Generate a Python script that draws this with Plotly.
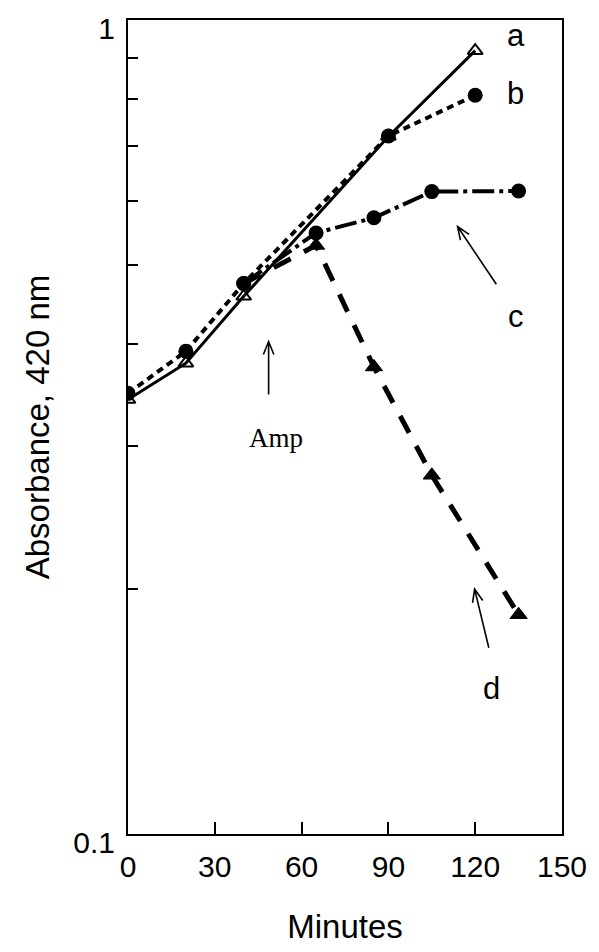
import math
import plotly.graph_objects as go

# Growth curves: absorbance at 420 nm versus time (minutes)
minutes_a = [0, 20, 40, 90, 120]
absorb_a = [0.342, 0.379, 0.458, 0.72, 0.918]

minutes_b = [0, 20, 40, 90, 120]
absorb_b = [0.348, 0.392, 0.475, 0.721, 0.809]

minutes_c = [40, 65, 85, 105, 135]
absorb_c = [0.475, 0.548, 0.572, 0.616, 0.617]

minutes_d = [40, 65, 85, 105, 135]
absorb_d = [0.475, 0.529, 0.375, 0.276, 0.186]

x_tick_vals = [0, 30, 60, 90, 120, 150]
x_tick_text = ["0", "30", "60", "90", "120", "150"]
y_tick_vals = [0.1, 1]
y_tick_text = ["0.1", "1"]
y_minor_vals = [0.2, 0.3, 0.4, 0.5, 0.6, 0.7, 0.8, 0.9]

# Figure geometry
W, H = 599, 952
MARGIN = dict(l=128, r=35, t=16, b=118)
PW = W - MARGIN["l"] - MARGIN["r"]
PH = H - MARGIN["t"] - MARGIN["b"]
X_RANGE = [0, 150]
Y_RANGE = [-1, 0.0005]  # log10 of absorbance

SANS = "Liberation Sans, Arial, sans-serif"
SERIF = "Liberation Serif, Times New Roman, serif"


def to_px(t, v):
    fx = (t - X_RANGE[0]) / (X_RANGE[1] - X_RANGE[0])
    fy = (math.log10(v) - Y_RANGE[0]) / (Y_RANGE[1] - Y_RANGE[0])
    return MARGIN["l"] + fx * PW, MARGIN["t"] + (1 - fy) * PH


def px_to_paper(px, py):
    return (px - MARGIN["l"]) / PW, 1 - (py - MARGIN["t"]) / PH


def open_arrow(t_tail, v_tail, t_head, v_head, head_len=14, half_angle=22):
    """Thin arrow with an open V head, returned as a paper-space path shape."""
    x0, y0 = to_px(t_tail, v_tail)
    x1, y1 = to_px(t_head, v_head)
    ang = math.atan2(y1 - y0, x1 - x0)
    pts = []
    for s in (1, -1):
        a = ang + math.pi + s * math.radians(half_angle)
        pts.append((x1 + head_len * math.cos(a), y1 + head_len * math.sin(a)))
    p = [px_to_paper(*q) for q in [(x0, y0), (x1, y1), pts[0], (x1, y1), pts[1]]]
    path = "M{:.5f},{:.5f} L{:.5f},{:.5f} M{:.5f},{:.5f} L{:.5f},{:.5f} L{:.5f},{:.5f}".format(
        *[c for q in p for c in q]
    )
    return dict(type="path", xref="paper", yref="paper", path=path,
                line=dict(color="black", width=1.6))


fig = go.Figure()

# a: control, open triangles, solid line
fig.add_trace(go.Scatter(
    x=minutes_a, y=absorb_a, mode="lines+markers",
    line=dict(color="black", width=3),
    marker=dict(symbol="triangle-up-open", size=13, color="black",
                line=dict(color="black", width=2)),
    showlegend=False,
))

# d: long dashes from the branch point, filled triangles after it
fig.add_trace(go.Scatter(
    x=minutes_d, y=absorb_d, mode="lines",
    line=dict(color="black", width=5, dash="19px,15px"),
    showlegend=False,
))
fig.add_trace(go.Scatter(
    x=minutes_d[1:], y=absorb_d[1:], mode="markers",
    marker=dict(symbol="triangle-up", size=15, color="black",
                line=dict(color="black", width=1)),
    showlegend=False,
))

# b: short dashes, filled circles
fig.add_trace(go.Scatter(
    x=minutes_b, y=absorb_b, mode="lines+markers",
    line=dict(color="black", width=4, dash="7px,5px"),
    marker=dict(symbol="circle", size=15, color="black"),
    showlegend=False,
))

# c: dash-dot, filled circles
fig.add_trace(go.Scatter(
    x=minutes_c, y=absorb_c, mode="lines+markers",
    line=dict(color="black", width=4, dash="22px,5px,4px,5px"),
    marker=dict(symbol="circle", size=15, color="black"),
    showlegend=False,
))

# Curve labels
labels = [("a", 134, 0.957), ("b", 134, 0.813), ("c", 134, 0.432), ("d", 125.5, 0.151)]
annotations = [
    dict(x=t, y=math.log10(v), xref="x", yref="y", text=s, showarrow=False,
         font=dict(family=SANS, size=31, color="black"))
    for s, t, v in labels
]
annotations.append(dict(x=51, y=math.log10(0.3066), xref="x", yref="y", text="Amp",
                        showarrow=False, font=dict(family=SERIF, size=27, color="black")))

shapes = [
    open_arrow(48.6, 0.347, 48.6, 0.403),    # ampicillin addition
    open_arrow(127.3, 0.474, 113.9, 0.558),  # points to curve c
    open_arrow(124.7, 0.1694, 119.8, 0.200), # points to curve d
]

axis_common = dict(
    showline=True, linecolor="black", linewidth=2, mirror=True,
    showgrid=False, zeroline=False,
    tickcolor="black", tickwidth=1.5,
    tickfont=dict(family=SANS, size=30, color="black"),
)

fig.update_layout(
    width=W, height=H,
    margin=MARGIN,
    paper_bgcolor="white", plot_bgcolor="white",
    annotations=annotations,
    shapes=shapes,
    xaxis=dict(
        range=X_RANGE, tickmode="array", tickvals=x_tick_vals, ticktext=x_tick_text,
        ticks="inside", ticklen=12, ticklabelstandoff=5,
        title=dict(text="Minutes", font=dict(family=SANS, size=33, color="black"), standoff=33),
        **axis_common,
    ),
    yaxis=dict(
        type="log", range=Y_RANGE, tickmode="array", tickvals=y_tick_vals, ticktext=y_tick_text,
        ticks="inside", ticklen=10, ticklabelstandoff=5, ticklabelshift=8,
        minor=dict(tickmode="array", tickvals=y_minor_vals, ticks="inside", ticklen=10,
                   tickwidth=1.5, tickcolor="black", showgrid=False),
        title=dict(text="Absorbance, 420 nm", font=dict(family=SANS, size=33, color="black"),
                   standoff=14),
        **axis_common,
    ),
)

fig.write_html("out.html")
